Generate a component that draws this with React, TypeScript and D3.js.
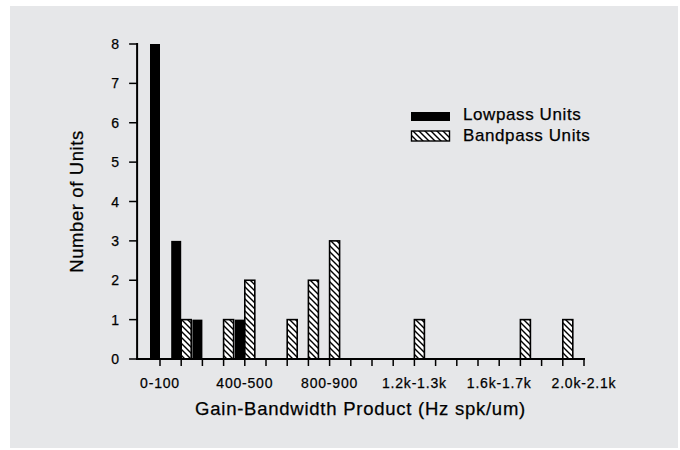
import React from "react";
import * as d3 from "d3";

// Gain-bandwidth bins, 100 Hz spk/um wide, from 0-100 up to 2.0k-2.1k
const binIndex = d3.range(21);
const lowpassCounts = [8, 3, 1, 0, 1, 0, 0, 0, 0, 0, 0, 0, 0, 0, 0, 0, 0, 0, 0, 0, 0];
const bandpassCounts = [0, 1, 0, 1, 2, 0, 1, 2, 3, 0, 0, 0, 1, 0, 0, 0, 0, 1, 0, 1, 0];
const labeledBins = [0, 4, 8, 12, 16, 20];
const binLabels = ["0-100", "400-500", "800-900", "1.2k-1.3k", "1.6k-1.7k", "2.0k-2.1k"];
const yTicks = [0, 1, 2, 3, 4, 5, 6, 7, 8];
const seriesNames = ["Lowpass Units", "Bandpass Units"];

const W = 680;
const H = 450;
const FONT = "'Liberation Sans', Arial, Helvetica, sans-serif";

export default function App() {
  const x = d3.scaleLinear().domain([0, 20]).range([160, 584]);
  const y = d3.scaleLinear().domain([0, 8]).range([359, 44]);
  const barW = 10;
  const axisLeft = x(-1.08);
  const axisRight = x(20);
  const ink = { fill: "#000", stroke: "#000", strokeWidth: 0.25 };

  return (
    <svg
      width={W}
      height={H}
      style={{ position: "absolute", left: 0, top: 0, display: "block" }}
      fontFamily={FONT}
    >
      <defs>
        <pattern id="hatch" patternUnits="userSpaceOnUse" width="6" height="6">
          <rect width="6" height="6" fill="#fff" />
          <path d="M-1,-1 L7,7 M-4,2 L2,8 M4,-2 L10,4" stroke="#000" strokeWidth="1.4" />
        </pattern>
      </defs>
      <rect x={0} y={0} width={W} height={H} fill="#fff" />
      <rect x={10} y={6} width={668} height={442} fill="#e6e7e9" />

      {/* bandpass bars (right of each tick) */}
      {binIndex.map((i) =>
        bandpassCounts[i] > 0 ? (
          <rect
            key={"b" + i}
            x={x(i)}
            y={y(bandpassCounts[i])}
            width={barW}
            height={y(0) - y(bandpassCounts[i])}
            fill="url(#hatch)"
            stroke="#000"
            strokeWidth={1.6}
          />
        ) : null
      )}
      {/* lowpass bars (left of each tick) */}
      {binIndex.map((i) =>
        lowpassCounts[i] > 0 ? (
          <rect
            key={"l" + i}
            x={x(i) - barW}
            y={y(lowpassCounts[i])}
            width={barW}
            height={y(0) - y(lowpassCounts[i])}
            fill="#000"
          />
        ) : null
      )}

      {/* y axis */}
      <line x1={axisLeft} x2={axisLeft} y1={y(8) - 1} y2={y(0) + 1} stroke="#000" strokeWidth={2} />
      {yTicks.map((t) => (
        <g key={"yt" + t}>
          <line x1={axisLeft - 8} x2={axisLeft} y1={y(t)} y2={y(t)} stroke="#000" strokeWidth={1.5} />
          <text x={119} y={y(t) + 5} textAnchor="end" fontSize={14} {...ink}>
            {t}
          </text>
        </g>
      ))}

      {/* x axis */}
      <line x1={axisLeft - 1} x2={axisRight + 1} y1={y(0)} y2={y(0)} stroke="#000" strokeWidth={2} />
      {binIndex.map((i) => (
        <line key={"xt" + i} x1={x(i)} x2={x(i)} y1={y(0)} y2={y(0) + 7} stroke="#000" strokeWidth={1.5} />
      ))}
      {labeledBins.map((i, k) => (
        <text
          key={"xl" + i}
          x={x(i)}
          y={388}
          textAnchor="middle"
          fontSize={14}
          letterSpacing={0.8}
          {...ink}
        >
          {binLabels[k]}
        </text>
      ))}

      {/* axis titles */}
      <text
        x={(axisLeft + axisRight) / 2}
        y={415}
        textAnchor="middle"
        fontSize={18.5}
        letterSpacing={0.75}
        {...ink}
      >
        Gain-Bandwidth Product (Hz spk/um)
      </text>
      <text
        transform={`translate(83,${(y(0) + y(8)) / 2}) rotate(-90)`}
        textAnchor="middle"
        fontSize={18.5}
        letterSpacing={0.6}
        {...ink}
      >
        Number of Units
      </text>

      {/* legend */}
      <rect x={411} y={112} width={39} height={9} fill="#000" />
      <text x={463} y={120} fontSize={17} letterSpacing={0.6} {...ink}>
        {seriesNames[0]}
      </text>
      <rect x={411.5} y={131} width={38} height={10} fill="url(#hatch)" stroke="#000" strokeWidth={1.4} />
      <text x={463} y={141} fontSize={17} letterSpacing={0.6} {...ink}>
        {seriesNames[1]}
      </text>
    </svg>
  );
}
